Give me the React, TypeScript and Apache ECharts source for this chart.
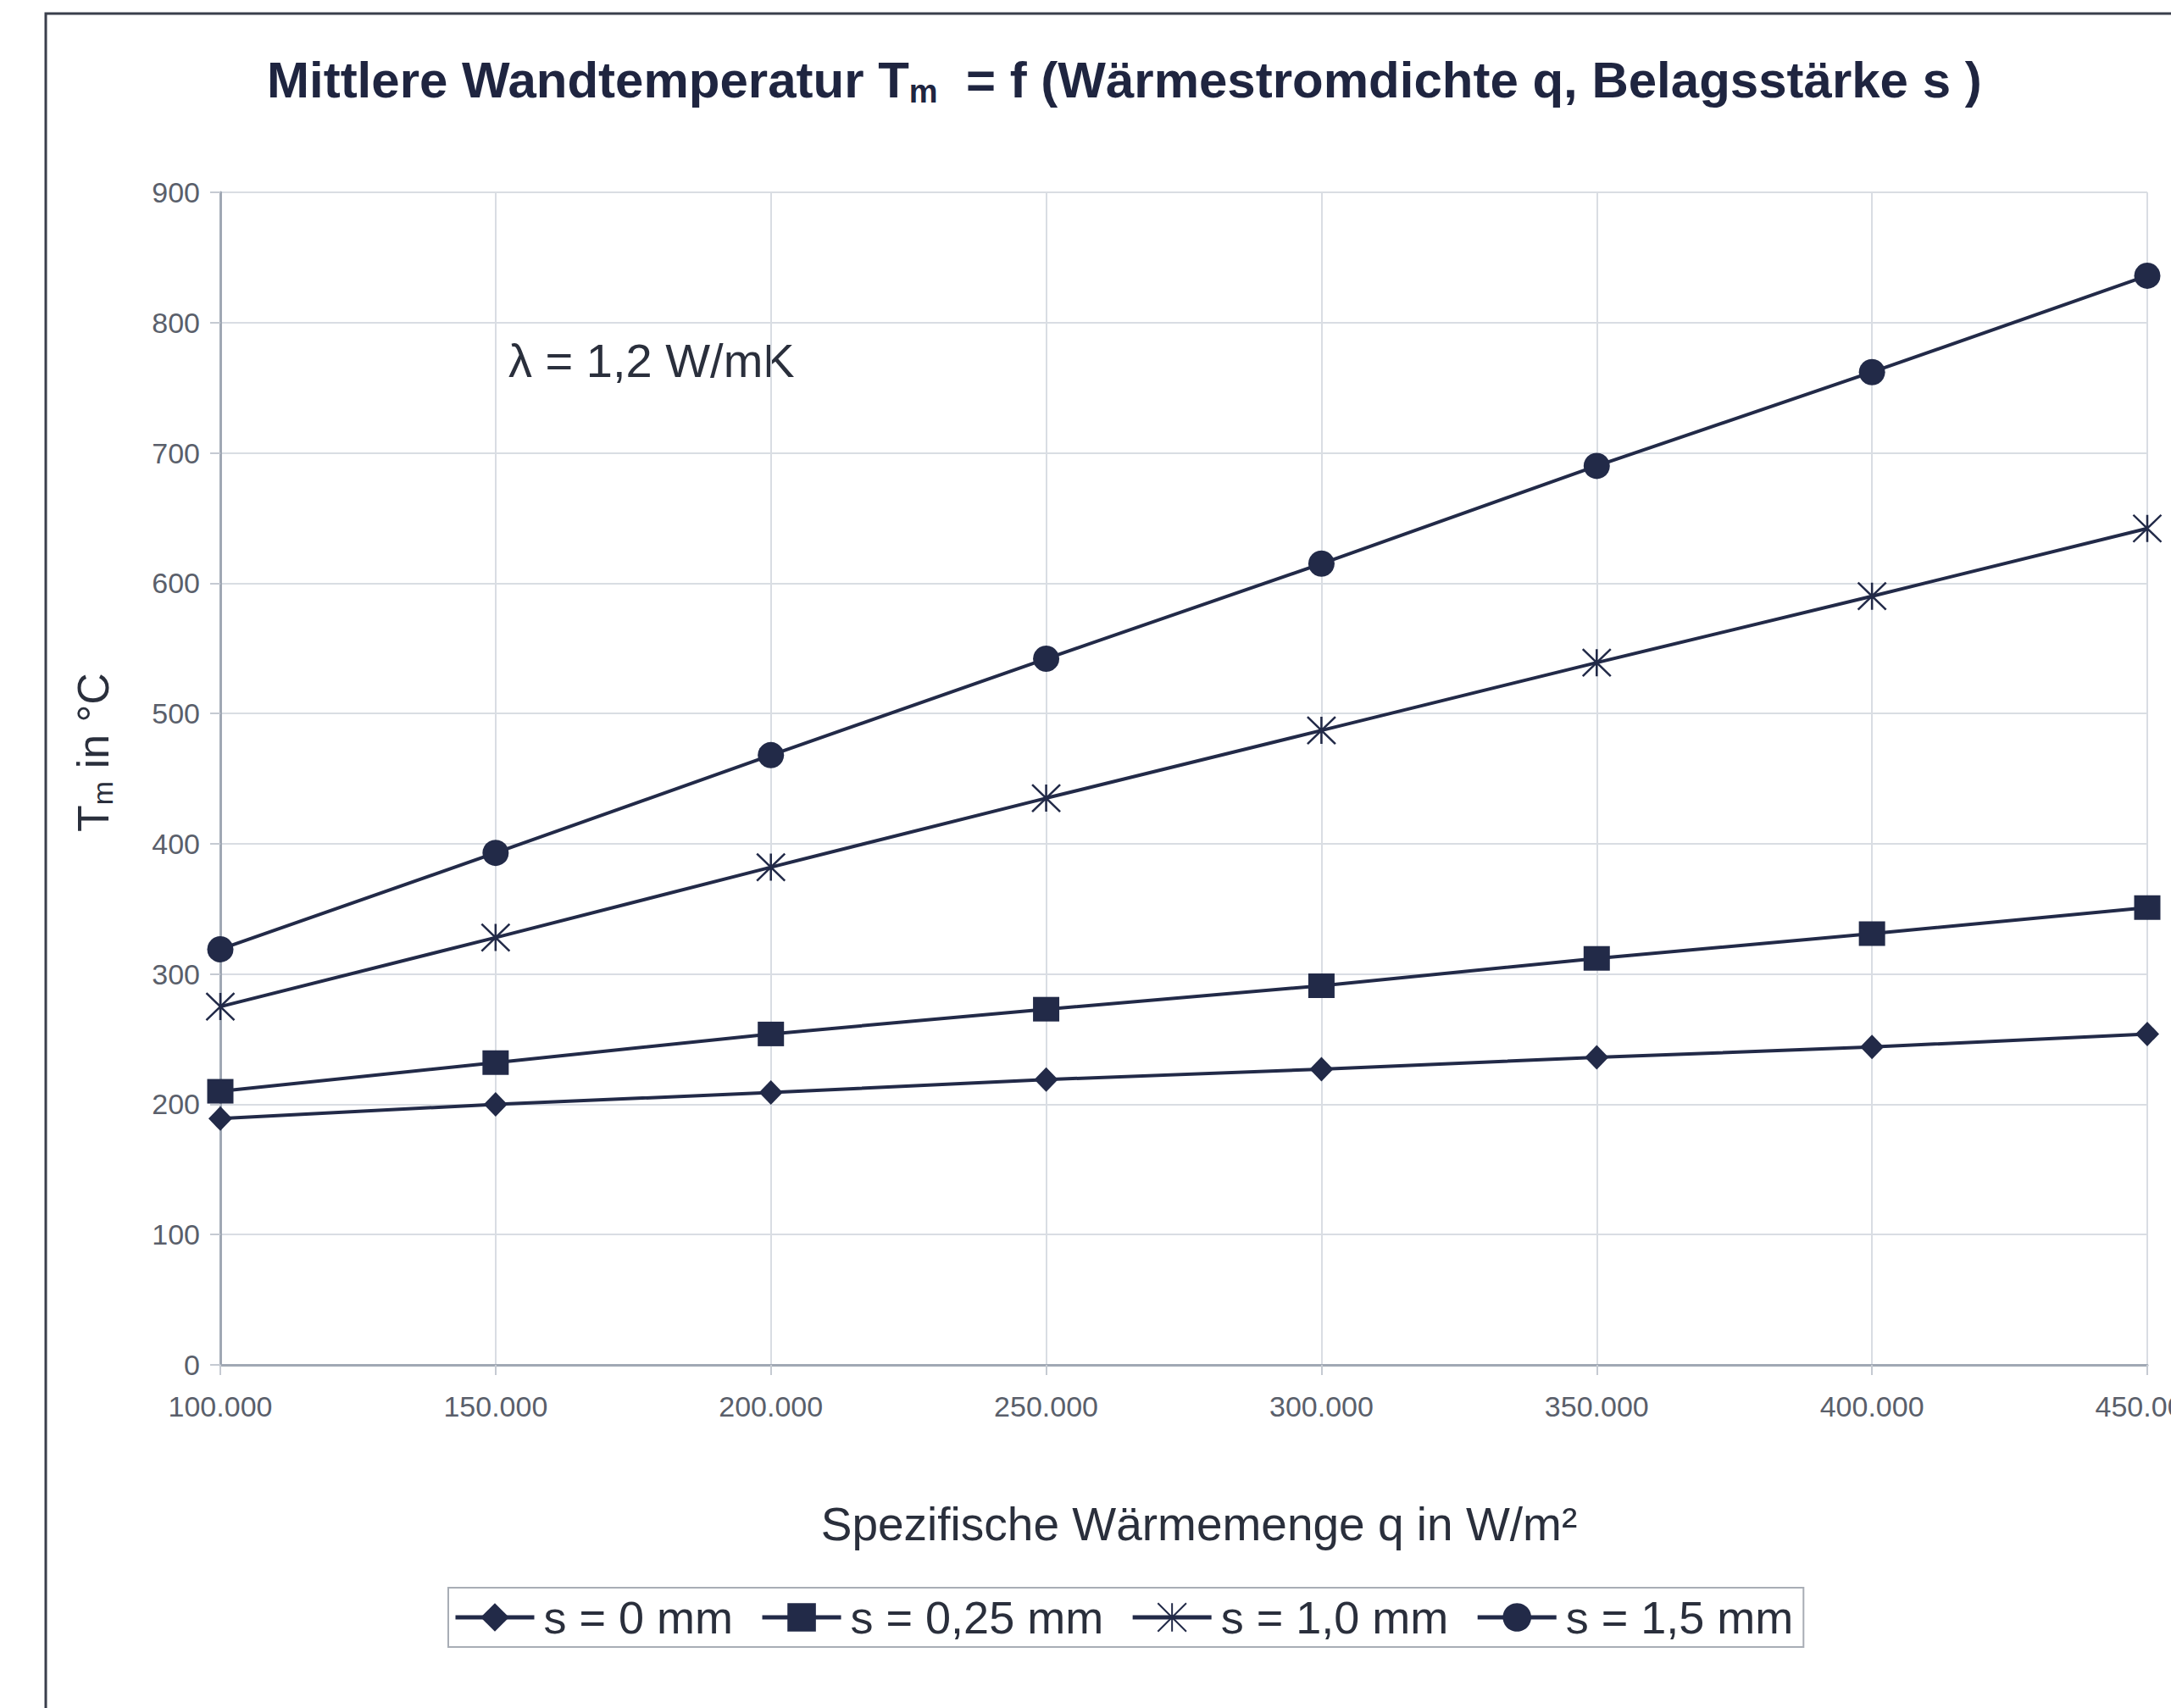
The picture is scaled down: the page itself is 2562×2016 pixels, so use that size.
import React, { useEffect, useRef } from "react";
import * as echarts from "echarts";

const qValues = [100000, 150000, 200000, 250000, 300000, 350000, 400000, 450000];
const s0 = [189, 200, 209, 219, 227, 236, 244, 254];
const s025 = [210, 232, 254, 273, 291, 312, 331, 351];
const s10 = [275, 328, 382, 435, 487, 539, 590, 642];
const s15 = [319, 393, 468, 542, 615, 690, 762, 836];
const seriesNames = ["s = 0 mm", "s = 0,25 mm", "s = 1,0 mm", "s = 1,5 mm"];
const yTicks = { min: 0, max: 900, interval: 100 };
const xTicks = { min: 100000, max: 450000, interval: 50000 };

const NAVY = "#222a48";
const FONT = "'Liberation Sans', Arial, Helvetica, sans-serif";
const STAR = "path://M0,0L10,10M10,0L0,10M5,0L5,10";

const fmtThousands = (v: number) => String(v).replace(/\B(?=(\d{3})+(?!\d))/g, ".");

export default function App() {
  const ref = useRef<HTMLDivElement>(null);
  useEffect(() => {
    if (!ref.current) return;
    const chart = echarts.init(ref.current, undefined, { renderer: "svg" });
    const mk = (vals: number[]) => vals.map((v, i) => [qValues[i], v]);
    const base = (name: string, vals: number[], symbol: string, size: any, star = false) => ({
      name,
      type: "line",
      data: mk(vals),
      symbol,
      symbolSize: size,
      showSymbol: true,
      lineStyle: { color: NAVY, width: 4 },
      itemStyle: star
        ? { color: "rgba(0,0,0,0)", borderColor: NAVY, borderWidth: 2.5 }
        : { color: NAVY, borderWidth: 0 },
      emphasis: { disabled: true },
      z: 3,
    });
    chart.setOption({
      animation: false,
      backgroundColor: "#ffffff",
      textStyle: { fontFamily: FONT },
      title: {
        left: 310,
        top: 56,
        text: "{a|Mittlere Wandtemperatur T}{sub|m}{a|  = f (Wärmestromdichte q, Belagsstärke s )}",
        textStyle: {
          rich: {
            a: { fontSize: 60, fontWeight: "bold", color: "#1f2540", fontFamily: FONT, lineHeight: 66, verticalAlign: "middle" },
            sub: { fontSize: 38, fontWeight: "bold", color: "#1f2540", fontFamily: FONT, lineHeight: 20, verticalAlign: "bottom" },
          },
        },
      },
      grid: { left: 260, right: 28, top: 227, bottom: 405, containLabel: false, outerBoundsMode: "none" },
      xAxis: {
        type: "value",
        min: xTicks.min,
        max: xTicks.max,
        interval: xTicks.interval,
        name: "Spezifische Wärmemenge q in W/m²",
        nameLocation: "middle",
        nameGap: 160,
        nameTextStyle: { fontSize: 55, color: "#2a2f3c", fontFamily: FONT, padding: [0, 0, 0, 36] },
        axisLine: { show: true, lineStyle: { color: "#a0a8b4", width: 3 } },
        axisTick: { show: true, length: 12, lineStyle: { color: "#c5cad2", width: 2 } },
        axisLabel: { fontSize: 34, color: "#5a5f6b", margin: 32, formatter: (v: number) => fmtThousands(v), fontFamily: FONT },
        splitLine: { show: true, lineStyle: { color: "#d9dde3", width: 2 } },
      },
      yAxis: {
        type: "value",
        min: yTicks.min,
        max: yTicks.max,
        interval: yTicks.interval,
        axisLine: { show: true, lineStyle: { color: "#a0a8b4", width: 3 } },
        axisTick: { show: true, length: 12, lineStyle: { color: "#c5cad2", width: 2 } },
        axisLabel: { fontSize: 34, color: "#5a5f6b", margin: 24, fontFamily: FONT },
        splitLine: { show: true, lineStyle: { color: "#d9dde3", width: 2 } },
      },
      legend: {
        left: 529,
        top: 1874,
        orient: "horizontal",
        itemWidth: 93,
        itemHeight: 42,
        itemGap: 32,
        padding: [8, 12, 8, 6],
        borderColor: "#a8adb5",
        borderWidth: 2,
        backgroundColor: "#ffffff",
        lineStyle: { width: 5, color: NAVY },
        textStyle: { fontSize: 54, color: "#2a2f3c", fontFamily: FONT, padding: [0, 0, 0, 6] },
        data: seriesNames,
      },
      graphic: [
        {
          type: "rect",
          shape: { x: 54, y: 16, width: 4000, height: 4000 },
          style: { fill: "none", stroke: "#3a3f4c", lineWidth: 3 },
          silent: true,
          z: -1,
        },
        {
          type: "text",
          x: 110,
          y: 888,
          rotation: Math.PI / 2,
          style: {
            text: "{a|T}{sub|m}{a| in °C}",
            align: "center",
            verticalAlign: "middle",
            rich: {
              a: { fontSize: 52, fill: "#2a2f3c", fontFamily: FONT, lineHeight: 56, verticalAlign: "middle" },
              sub: { fontSize: 34, fill: "#2a2f3c", fontFamily: FONT, lineHeight: 24, verticalAlign: "bottom" },
            },
          },
        },
        {
          type: "text",
          x: 600,
          y: 425,
          style: {
            text: "λ = 1,2 W/mK",
            fontSize: 56,
            fontFamily: FONT,
            fill: "#2a2f3c",
            align: "left",
            verticalAlign: "middle",
          },
        },
      ],
      series: [
        base(seriesNames[0], s0, "diamond", [28, 29]),
        base(seriesNames[1], s025, "rect", [31, 29]),
        base(seriesNames[2], s10, STAR, [33, 32], true),
        base(seriesNames[3], s15, "circle", [31, 31]),
      ],
    });
    return () => chart.dispose();
  }, []);
  return <div ref={ref} style={{ position: "fixed", left: 0, top: 0, width: 2562, height: 2016 }} />;
}
